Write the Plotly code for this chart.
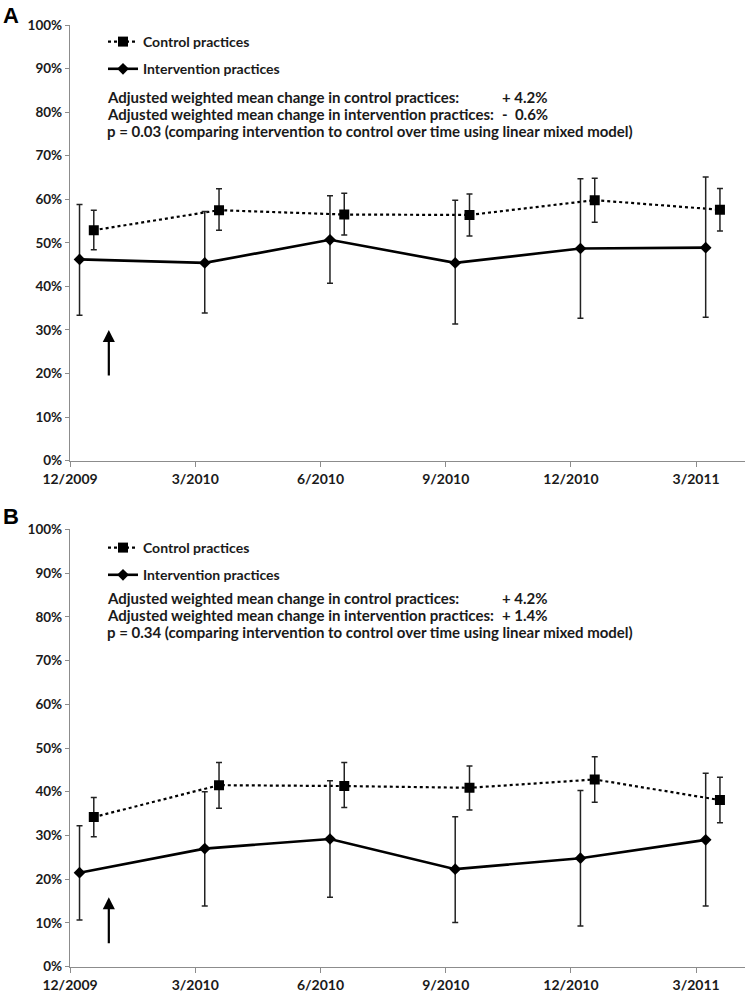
import plotly.graph_objects as go

# ---------------- data ----------------
quarters = ["12/2009", "3/2010", "6/2010", "9/2010", "12/2010", "3/2011"]
quarter_idx = [0, 1, 2, 3, 4, 5]

# Panel A
a_int = [46.2, 45.4, 50.7, 45.4, 48.7, 48.9]
a_int_hi = [58.8, 57.2, 60.8, 59.8, 64.7, 65.1]
a_int_lo = [33.4, 33.9, 40.7, 31.4, 32.7, 32.9]
a_ctl = [52.9, 57.5, 56.5, 56.4, 59.8, 57.6]
a_ctl_hi = [57.5, 62.4, 61.4, 61.2, 64.8, 62.5]
a_ctl_lo = [48.4, 52.9, 51.8, 51.6, 54.7, 52.7]

# Panel B
b_int = [21.5, 27.0, 29.2, 22.3, 24.8, 29.0]
b_int_hi = [32.2, 40.0, 42.5, 34.3, 40.3, 44.2]
b_int_lo = [10.7, 13.9, 15.9, 10.1, 9.3, 13.9]
b_ctl = [34.2, 41.5, 41.3, 40.9, 42.8, 38.1]
b_ctl_hi = [38.7, 46.7, 46.7, 45.9, 48.0, 43.3]
b_ctl_lo = [29.7, 36.2, 36.4, 35.8, 37.6, 32.9]

# measurement offset within quarter (fraction of a quarter)
int_offset = 0.076
ctl_offset = 0.19

arrow_x = 0.31
a_arrow = [19.2, 30.0]
b_arrow = [5.0, 15.9]

a_texts = ["Adjusted weighted mean change in control practices:",
           "Adjusted weighted mean change in intervention practices:",
           "p = 0.03 (comparing intervention to control over time using linear mixed model)"]
a_vals = ["+ 4.2%", "-  0.6%", ""]
b_texts = ["Adjusted weighted mean change in control practices:",
           "Adjusted weighted mean change in intervention practices:",
           "p = 0.34 (comparing intervention to control over time using linear mixed model)"]
b_vals = ["+ 4.2%", "+ 1.4%", ""]

# ---------------- figure ----------------
W, H = 747, 994
FONT = "Lato"
fig = go.Figure()

def px_x(p):
    return p / W

def px_y(p):
    return 1 - p / H

def add_panel(xa, ya, legend, ctl, ctl_hi, ctl_lo, inter, int_hi, int_lo):
    xc = [q + ctl_offset for q in quarter_idx]
    xi = [q + int_offset for q in quarter_idx]
    fig.add_trace(go.Scatter(
        x=xc, y=ctl, name="Control practices", mode="lines+markers",
        xaxis=xa, yaxis=ya, legend=legend, legendgroup=legend + "c",
        line=dict(color="black", width=2.2, dash="dot"),
        marker=dict(symbol="square", size=10, color="black"),
        error_y=dict(type="data", symmetric=False,
                     array=[h - v for h, v in zip(ctl_hi, ctl)],
                     arrayminus=[v - l for l, v in zip(ctl_lo, ctl)],
                     color="#222", thickness=1.5, width=3),
    ))
    fig.add_trace(go.Scatter(
        x=xi, y=inter, name="Intervention practices", mode="lines+markers",
        xaxis=xa, yaxis=ya, legend=legend, legendgroup=legend + "i",
        line=dict(color="black", width=2.6),
        marker=dict(symbol="diamond", size=9, color="black"),
        error_y=dict(type="data", symmetric=False,
                     array=[h - v for h, v in zip(int_hi, inter)],
                     arrayminus=[v - l for l, v in zip(int_lo, inter)],
                     color="#222", thickness=1.5, width=3),
    ))

add_panel("x", "y", "legend", a_ctl, a_ctl_hi, a_ctl_lo, a_int, a_int_hi, a_int_lo)
add_panel("x2", "y2", "legend2", b_ctl, b_ctl_hi, b_ctl_lo, b_int, b_int_hi, b_int_lo)

axis_common = dict(showline=True, linecolor="#8c8c8c", linewidth=1.3, showgrid=False,
                   zeroline=False, ticks="outside", tickcolor="#8c8c8c", ticklen=5,
                   automargin=False,
                   tickfont=dict(family=FONT, size=14, color="#1a1a1a", weight="bold"))
x_dom = [px_x(70), px_x(745)]
xax = dict(axis_common, domain=x_dom, range=[0, 5.39], tickmode="array",
           tickvals=quarter_idx, ticktext=quarters)
yax = dict(axis_common, range=[0, 100], tickmode="linear", tick0=0, dtick=10,
           ticksuffix="%", ticklen=4)
yax["tickfont"] = dict(family=FONT, size=13.5, color="#1a1a1a", weight="bold")

leg_common = dict(xanchor="left", yanchor="top", bgcolor="rgba(0,0,0,0)",
                  itemwidth=30, tracegroupgap=6,
                  font=dict(family=FONT, size=14, color="#1a1a1a", weight="bold"))

fig.update_layout(
    width=W, height=H, margin=dict(l=0, r=0, t=0, b=0, autoexpand=False),
    paper_bgcolor="white", plot_bgcolor="white", showlegend=True,
    xaxis=dict(xax, anchor="y"),
    yaxis=dict(yax, domain=[px_y(460.7), px_y(25)], anchor="x"),
    xaxis2=dict(xax, anchor="y2"),
    yaxis2=dict(yax, domain=[px_y(966.7), px_y(529.3)], anchor="x2"),
    legend=dict(leg_common, x=px_x(103), y=px_y(26)),
    legend2=dict(leg_common, x=px_x(103), y=px_y(532)),
)

ann_font = dict(family=FONT, size=15, color="#1a1a1a", weight="bold")
annotations = []

def add_texts(texts, vals, ys):
    for t, v, yy in zip(texts, vals, ys):
        annotations.append(dict(x=px_x(105), y=px_y(yy), xref="paper", yref="paper",
                                text=t, showarrow=False, xanchor="left", yanchor="middle",
                                font=ann_font))
        if v:
            annotations.append(dict(x=px_x(550), y=px_y(yy), xref="paper", yref="paper",
                                    text=v, showarrow=False, xanchor="right", yanchor="middle",
                                    font=ann_font))

add_texts(a_texts, a_vals, [97, 114, 131])
add_texts(b_texts, b_vals, [597.5, 614.5, 631.5])

# panel letters
annotations.append(dict(x=px_x(1), y=px_y(15), xref="paper", yref="paper", text="A",
                        showarrow=False, xanchor="left", yanchor="middle",
                        font=dict(family="Liberation Sans", size=22, color="black", weight="bold")))
annotations.append(dict(x=px_x(1), y=px_y(516), xref="paper", yref="paper", text="B",
                        showarrow=False, xanchor="left", yanchor="middle",
                        font=dict(family="Liberation Sans", size=22, color="black", weight="bold")))

# arrows
for xr, yr, (y0, y1) in [("x", "y", a_arrow), ("x2", "y2", b_arrow)]:
    annotations.append(dict(x=arrow_x, y=y1, ax=arrow_x, ay=y0, xref=xr, yref=yr,
                            axref=xr, ayref=yr, text="", showarrow=True,
                            arrowhead=2, arrowsize=1.1, arrowwidth=2.2, arrowcolor="black"))

fig.update_layout(annotations=annotations)
fig.write_html("out.html", config={"displayModeBar": False},
               post_script="document.body.style.margin='0px';document.body.style.padding='0px';")
